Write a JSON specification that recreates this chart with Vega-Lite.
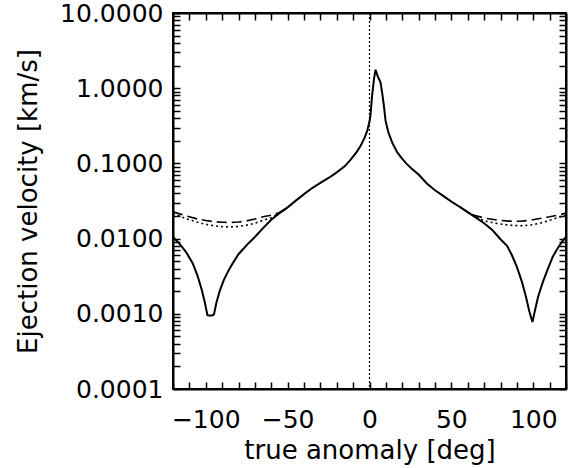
{
  "$schema": "https://vega.github.io/schema/vega-lite/v6.json",
  "width": 393,
  "height": 376,
  "autosize": {"type": "none"},
  "padding": {"left": 173, "top": 13, "right": 9, "bottom": 79},
  "background": "white",
  "config": {
    "view": {"stroke": "black", "strokeWidth": 2},
    "axis": {
      "tickColor": "black",
      "tickWidth": 1.5,
      "grid": false,
      "labelFont": "DejaVu Sans",
      "labelFontSize": 25,
      "labelColor": "black",
      "titleFont": "DejaVu Sans",
      "titleFontSize": 26,
      "titleFontWeight": "normal",
      "titleColor": "black"
    }
  },
  "datasets": {
    "curves": [
      {"angle": -120, "v": 0.0105, "series": "solid"},
      {"angle": -116, "v": 0.0085, "series": "solid"},
      {"angle": -112, "v": 0.0066, "series": "solid"},
      {"angle": -108, "v": 0.0047, "series": "solid"},
      {"angle": -105, "v": 0.0032, "series": "solid"},
      {"angle": -102.5, "v": 0.0021, "series": "solid"},
      {"angle": -100.5, "v": 0.0014, "series": "solid"},
      {"angle": -99, "v": 0.00096, "series": "solid"},
      {"angle": -98, "v": 0.00095, "series": "solid"},
      {"angle": -96, "v": 0.00095, "series": "solid"},
      {"angle": -95, "v": 0.00098, "series": "solid"},
      {"angle": -93.5, "v": 0.0014, "series": "solid"},
      {"angle": -91.5, "v": 0.002, "series": "solid"},
      {"angle": -89, "v": 0.0028, "series": "solid"},
      {"angle": -86, "v": 0.0038, "series": "solid"},
      {"angle": -83, "v": 0.0049, "series": "solid"},
      {"angle": -80, "v": 0.0062, "series": "solid"},
      {"angle": -75, "v": 0.0082, "series": "solid"},
      {"angle": -70, "v": 0.0105, "series": "solid"},
      {"angle": -65, "v": 0.0138, "series": "solid"},
      {"angle": -60, "v": 0.0178, "series": "solid"},
      {"angle": -55, "v": 0.0218, "series": "solid"},
      {"angle": -50, "v": 0.026, "series": "solid"},
      {"angle": -45, "v": 0.032, "series": "solid"},
      {"angle": -40, "v": 0.039, "series": "solid"},
      {"angle": -35, "v": 0.047, "series": "solid"},
      {"angle": -30, "v": 0.055, "series": "solid"},
      {"angle": -25, "v": 0.064, "series": "solid"},
      {"angle": -20, "v": 0.076, "series": "solid"},
      {"angle": -15, "v": 0.092, "series": "solid"},
      {"angle": -11.5, "v": 0.112, "series": "solid"},
      {"angle": -8, "v": 0.14, "series": "solid"},
      {"angle": -5.5, "v": 0.17, "series": "solid"},
      {"angle": -3, "v": 0.22, "series": "solid"},
      {"angle": -1.4, "v": 0.27, "series": "solid"},
      {"angle": 0, "v": 0.36, "series": "solid"},
      {"angle": 0.6, "v": 0.44, "series": "solid"},
      {"angle": 1.6, "v": 0.8, "series": "solid"},
      {"angle": 2.8, "v": 1.35, "series": "solid"},
      {"angle": 3.7, "v": 1.76, "series": "solid"},
      {"angle": 5, "v": 1.45, "series": "solid"},
      {"angle": 6.7, "v": 1.2, "series": "solid"},
      {"angle": 7.8, "v": 0.85, "series": "solid"},
      {"angle": 8.8, "v": 0.58, "series": "solid"},
      {"angle": 9.8, "v": 0.37, "series": "solid"},
      {"angle": 11.5, "v": 0.26, "series": "solid"},
      {"angle": 13.8, "v": 0.19, "series": "solid"},
      {"angle": 17, "v": 0.14, "series": "solid"},
      {"angle": 20, "v": 0.115, "series": "solid"},
      {"angle": 23, "v": 0.097, "series": "solid"},
      {"angle": 26, "v": 0.084, "series": "solid"},
      {"angle": 30, "v": 0.071, "series": "solid"},
      {"angle": 35, "v": 0.054, "series": "solid"},
      {"angle": 40, "v": 0.044, "series": "solid"},
      {"angle": 45, "v": 0.037, "series": "solid"},
      {"angle": 50, "v": 0.031, "series": "solid"},
      {"angle": 55, "v": 0.0265, "series": "solid"},
      {"angle": 60, "v": 0.0225, "series": "solid"},
      {"angle": 65, "v": 0.019, "series": "solid"},
      {"angle": 70, "v": 0.016, "series": "solid"},
      {"angle": 75, "v": 0.013, "series": "solid"},
      {"angle": 80, "v": 0.0098, "series": "solid"},
      {"angle": 84, "v": 0.008, "series": "solid"},
      {"angle": 87, "v": 0.006, "series": "solid"},
      {"angle": 90, "v": 0.0042, "series": "solid"},
      {"angle": 93, "v": 0.0027, "series": "solid"},
      {"angle": 95.5, "v": 0.0017, "series": "solid"},
      {"angle": 97.5, "v": 0.0011, "series": "solid"},
      {"angle": 99.5, "v": 0.00078, "series": "solid"},
      {"angle": 101, "v": 0.0011, "series": "solid"},
      {"angle": 103, "v": 0.0017, "series": "solid"},
      {"angle": 106, "v": 0.0027, "series": "solid"},
      {"angle": 109, "v": 0.004, "series": "solid"},
      {"angle": 112, "v": 0.0058, "series": "solid"},
      {"angle": 115, "v": 0.0075, "series": "solid"},
      {"angle": 118, "v": 0.0093, "series": "solid"},
      {"angle": 120, "v": 0.0105, "series": "solid"},

      {"angle": -120, "v": 0.0227, "series": "dashed", "side": "left"},
      {"angle": -115, "v": 0.021, "series": "dashed", "side": "left"},
      {"angle": -110, "v": 0.0195, "series": "dashed", "side": "left"},
      {"angle": -105, "v": 0.0182, "series": "dashed", "side": "left"},
      {"angle": -100, "v": 0.0174, "series": "dashed", "side": "left"},
      {"angle": -95, "v": 0.0168, "series": "dashed", "side": "left"},
      {"angle": -90, "v": 0.0165, "series": "dashed", "side": "left"},
      {"angle": -85, "v": 0.0164, "series": "dashed", "side": "left"},
      {"angle": -80, "v": 0.0166, "series": "dashed", "side": "left"},
      {"angle": -75, "v": 0.0172, "series": "dashed", "side": "left"},
      {"angle": -70, "v": 0.0182, "series": "dashed", "side": "left"},
      {"angle": -65, "v": 0.0195, "series": "dashed", "side": "left"},
      {"angle": -60, "v": 0.0205, "series": "dashed", "side": "left"},
      {"angle": -55, "v": 0.0222, "series": "dashed", "side": "left"},
      {"angle": -50, "v": 0.026, "series": "dashed", "side": "left"},

      {"angle": -120, "v": 0.0216, "series": "dotted", "side": "left"},
      {"angle": -115, "v": 0.0195, "series": "dotted", "side": "left"},
      {"angle": -110, "v": 0.0178, "series": "dotted", "side": "left"},
      {"angle": -105, "v": 0.0165, "series": "dotted", "side": "left"},
      {"angle": -100, "v": 0.0155, "series": "dotted", "side": "left"},
      {"angle": -95, "v": 0.0148, "series": "dotted", "side": "left"},
      {"angle": -90, "v": 0.0144, "series": "dotted", "side": "left"},
      {"angle": -85, "v": 0.0143, "series": "dotted", "side": "left"},
      {"angle": -80, "v": 0.0145, "series": "dotted", "side": "left"},
      {"angle": -75, "v": 0.0151, "series": "dotted", "side": "left"},
      {"angle": -70, "v": 0.016, "series": "dotted", "side": "left"},
      {"angle": -65, "v": 0.0175, "series": "dotted", "side": "left"},
      {"angle": -60, "v": 0.019, "series": "dotted", "side": "left"},
      {"angle": -55, "v": 0.0218, "series": "dotted", "side": "left"},
      {"angle": -50, "v": 0.026, "series": "dotted", "side": "left"},

      {"angle": 55, "v": 0.0265, "series": "dashed", "side": "right"},
      {"angle": 60, "v": 0.0225, "series": "dashed", "side": "right"},
      {"angle": 64, "v": 0.0205, "series": "dashed", "side": "right"},
      {"angle": 70, "v": 0.0188, "series": "dashed", "side": "right"},
      {"angle": 78, "v": 0.0176, "series": "dashed", "side": "right"},
      {"angle": 85, "v": 0.0171, "series": "dashed", "side": "right"},
      {"angle": 92, "v": 0.017, "series": "dashed", "side": "right"},
      {"angle": 98, "v": 0.0175, "series": "dashed", "side": "right"},
      {"angle": 104, "v": 0.0185, "series": "dashed", "side": "right"},
      {"angle": 110, "v": 0.0195, "series": "dashed", "side": "right"},
      {"angle": 115, "v": 0.0205, "series": "dashed", "side": "right"},
      {"angle": 120, "v": 0.0218, "series": "dashed", "side": "right"},

      {"angle": 55, "v": 0.0265, "series": "dotted", "side": "right"},
      {"angle": 60, "v": 0.0223, "series": "dotted", "side": "right"},
      {"angle": 64, "v": 0.02, "series": "dotted", "side": "right"},
      {"angle": 70, "v": 0.0172, "series": "dotted", "side": "right"},
      {"angle": 78, "v": 0.0159, "series": "dotted", "side": "right"},
      {"angle": 85, "v": 0.0151, "series": "dotted", "side": "right"},
      {"angle": 92, "v": 0.0148, "series": "dotted", "side": "right"},
      {"angle": 98, "v": 0.0151, "series": "dotted", "side": "right"},
      {"angle": 104, "v": 0.016, "series": "dotted", "side": "right"},
      {"angle": 110, "v": 0.0175, "series": "dotted", "side": "right"},
      {"angle": 115, "v": 0.019, "series": "dotted", "side": "right"},
      {"angle": 120, "v": 0.0205, "series": "dotted", "side": "right"}
    ]
  },
  "resolve": {"axis": {"x": "independent", "y": "independent"}},
  "layer": [
    {
      "data": {"name": "curves"},
      "transform": [{"filter": "datum.series === 'solid'"}],
      "mark": {"type": "line", "color": "black", "strokeWidth": 2, "clip": true},
      "encoding": {
        "x": {
          "field": "angle", "type": "quantitative",
          "scale": {"domain": [-120, 120], "nice": false, "zero": false},
          "axis": {
            "orient": "bottom",
            "title": "true anomaly [deg]",
            "ticks": true,
            "tickSize": -7,
            "domainColor": "black",
            "domainWidth": 2,
            "values": [-120,-110,-100,-90,-80,-70,-60,-50,-40,-30,-20,-10,0,10,20,30,40,50,60,70,80,90,100,110,120],
            "labelExpr": "(datum.value % 50 === 0 && abs(datum.value) < 120) ? datum.label : ''",
            "labelFlush": false,
            "labelOverlap": false,
            "labelPadding": 25,
            "titlePadding": 5
          }
        },
        "y": {
          "field": "v", "type": "quantitative",
          "scale": {"type": "log", "domain": [0.0001, 10], "nice": false},
          "axis": {
            "orient": "left",
            "title": "Ejection velocity [km/s]",
            "ticks": true,
            "tickSize": -7,
            "domainColor": "black",
            "domainWidth": 2,
            "values": [0.0001,0.0002,0.0003,0.0004,0.0005,0.0006,0.0007,0.0008,0.0009,0.001,0.002,0.003,0.004,0.005,0.006,0.007,0.008,0.009,0.01,0.02,0.03,0.04,0.05,0.06,0.07,0.08,0.09,0.1,0.2,0.3,0.4,0.5,0.6,0.7,0.8,0.9,1,2,3,4,5,6,7,8,9,10],
            "labelExpr": "abs(log(datum.value)/LN10 - round(log(datum.value)/LN10)) < 0.001 ? format(datum.value, '.4f') : ''",
            "labelOverlap": false,
            "labelPadding": 17,
            "titlePadding": 18
          }
        }
      }
    },
    {
      "data": {"name": "curves"},
      "transform": [{"filter": "datum.series !== 'solid'"}],
      "mark": {"type": "line", "color": "black", "strokeWidth": 1.6, "clip": true},
      "encoding": {
        "x": {
          "field": "angle", "type": "quantitative",
          "axis": {
            "orient": "top", "title": null, "labels": false, "ticks": true, "tickSize": -7,
            "domainColor": "black", "domainWidth": 2,
            "values": [-120,-110,-100,-90,-80,-70,-60,-50,-40,-30,-20,-10,0,10,20,30,40,50,60,70,80,90,100,110,120]
          }
        },
        "y": {
          "field": "v", "type": "quantitative",
          "axis": {
            "orient": "right", "title": null, "labels": false, "ticks": true, "tickSize": -7,
            "domainColor": "black", "domainWidth": 2,
            "values": [0.0001,0.0002,0.0003,0.0004,0.0005,0.0006,0.0007,0.0008,0.0009,0.001,0.002,0.003,0.004,0.005,0.006,0.007,0.008,0.009,0.01,0.02,0.03,0.04,0.05,0.06,0.07,0.08,0.09,0.1,0.2,0.3,0.4,0.5,0.6,0.7,0.8,0.9,1,2,3,4,5,6,7,8,9,10]
          }
        },
        "detail": {"field": "side"},
        "strokeDash": {
          "field": "series", "type": "nominal",
          "scale": {"domain": ["dashed", "dotted"], "range": [[10, 5], [2, 3]]},
          "legend": null
        }
      }
    },
    {
      "data": {"values": [{"angle": 0}]},
      "mark": {"type": "rule", "color": "black", "strokeWidth": 1.2, "strokeDash": [2, 2]},
      "encoding": {
        "x": {"field": "angle", "type": "quantitative", "axis": null}
      }
    }
  ]
}
